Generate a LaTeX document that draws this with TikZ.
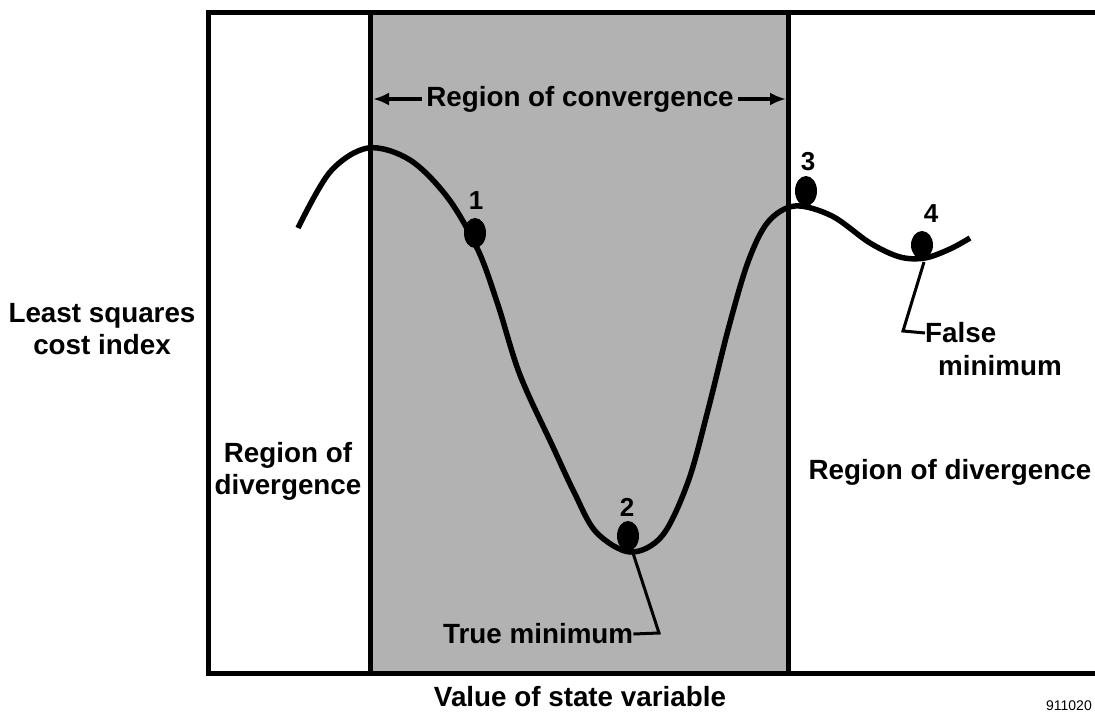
\documentclass[tikz,border=0pt]{standalone}
\usepackage{fontspec}
\setmainfont{Liberation Sans}
\usetikzlibrary{arrows.meta}
\begin{document}
\begin{tikzpicture}[x=1pt,y=-1pt,
  lbl/.style={font=\fontsize{27.8}{32}\selectfont\bfseries, inner sep=0pt, align=center},
  num/.style={font=\fontsize{26}{28}\selectfont\bfseries, inner sep=0pt},
  thick line/.style={line width=5pt},
  lead/.style={line width=3pt},
  arr/.style={line width=3.5pt, -{Latex[length=16pt,width=13pt]}}]
\useasboundingbox (0,0) rectangle (1095,715);
\begin{scope}
\clip (0,0) rectangle (1095,715);
% shaded region
\fill[black!30] (370,12) rectangle (788,673);
% frame
\draw[thick line] (1100,12) -- (208,12) -- (208,673) -- (1100,673);
\draw[thick line] (370,12) -- (370,673);
\draw[thick line] (788,12) -- (788,673);
% curve
\draw[line width=5.5pt] plot[smooth, tension=0.55] coordinates {
 (298,228) (330,172) (368,148) (410,160) (448,198) (478,250) (498,305)
 (520,375) (553,447) (574,492) (596,532) (630,552) (662,536) (688,482)
 (708,410) (728,330) (748,262) (768,222) (795,206) (832,216) (870,243)
 (900,257) (925,258) (950,249) (970,238)};
% balls
\fill (475,233) ellipse [x radius=11, y radius=15] coordinate (b1);
\fill (628,536) ellipse [x radius=11, y radius=15] coordinate (b2);
\fill (806,191) ellipse [x radius=11, y radius=15] coordinate (b3);
\fill (922,245) ellipse [x radius=11, y radius=14] coordinate (b4);
\node[num] (n1) at (476,201) {1};
\node[num] (n2) at (627,507) {2};
\node[num] (n3) at (808,162) {3};
\node[num] (n4) at (931,214) {4};
% region of convergence
\node[lbl] (conv) at (580,99) {Region of convergence};
\coordinate (convL) at (373,99);
\coordinate (convR) at (786,99);
\draw[arr] (conv.west) ++(-4,0) -- (convL);
\draw[arr] (conv.east) ++(4,0) -- (convR);
% labels
\node[lbl] (yl) at (102,329) {Least squares\\cost index};
\node[lbl] (dl) at (288,471) {Region of\\divergence};
\node[lbl] (dr) at (950,472) {Region of divergence};
\node[lbl] (xl) at (580,697) {Value of state variable};
\node[lbl, anchor=west] (truem) at (443,634) {True minimum};
\node[lbl, anchor=west] (false1) at (925,333) {False};
\node[lbl, anchor=west] (false2) at (938,366) {minimum};
\coordinate (t1) at (632,550);
\coordinate (t2) at (659,633);
\draw[lead] (t1) -- (t2) -- (truem.east);
\coordinate (f1) at (924,262);
\coordinate (f2) at (903,331);
\draw[lead] (f1) -- (f2) -- (false1.west);
\node[font=\fontsize{14}{16}\selectfont, anchor=east, inner sep=0pt] (fig) at (1092,706) {911020};
\end{scope}
\end{tikzpicture}
\end{document}
